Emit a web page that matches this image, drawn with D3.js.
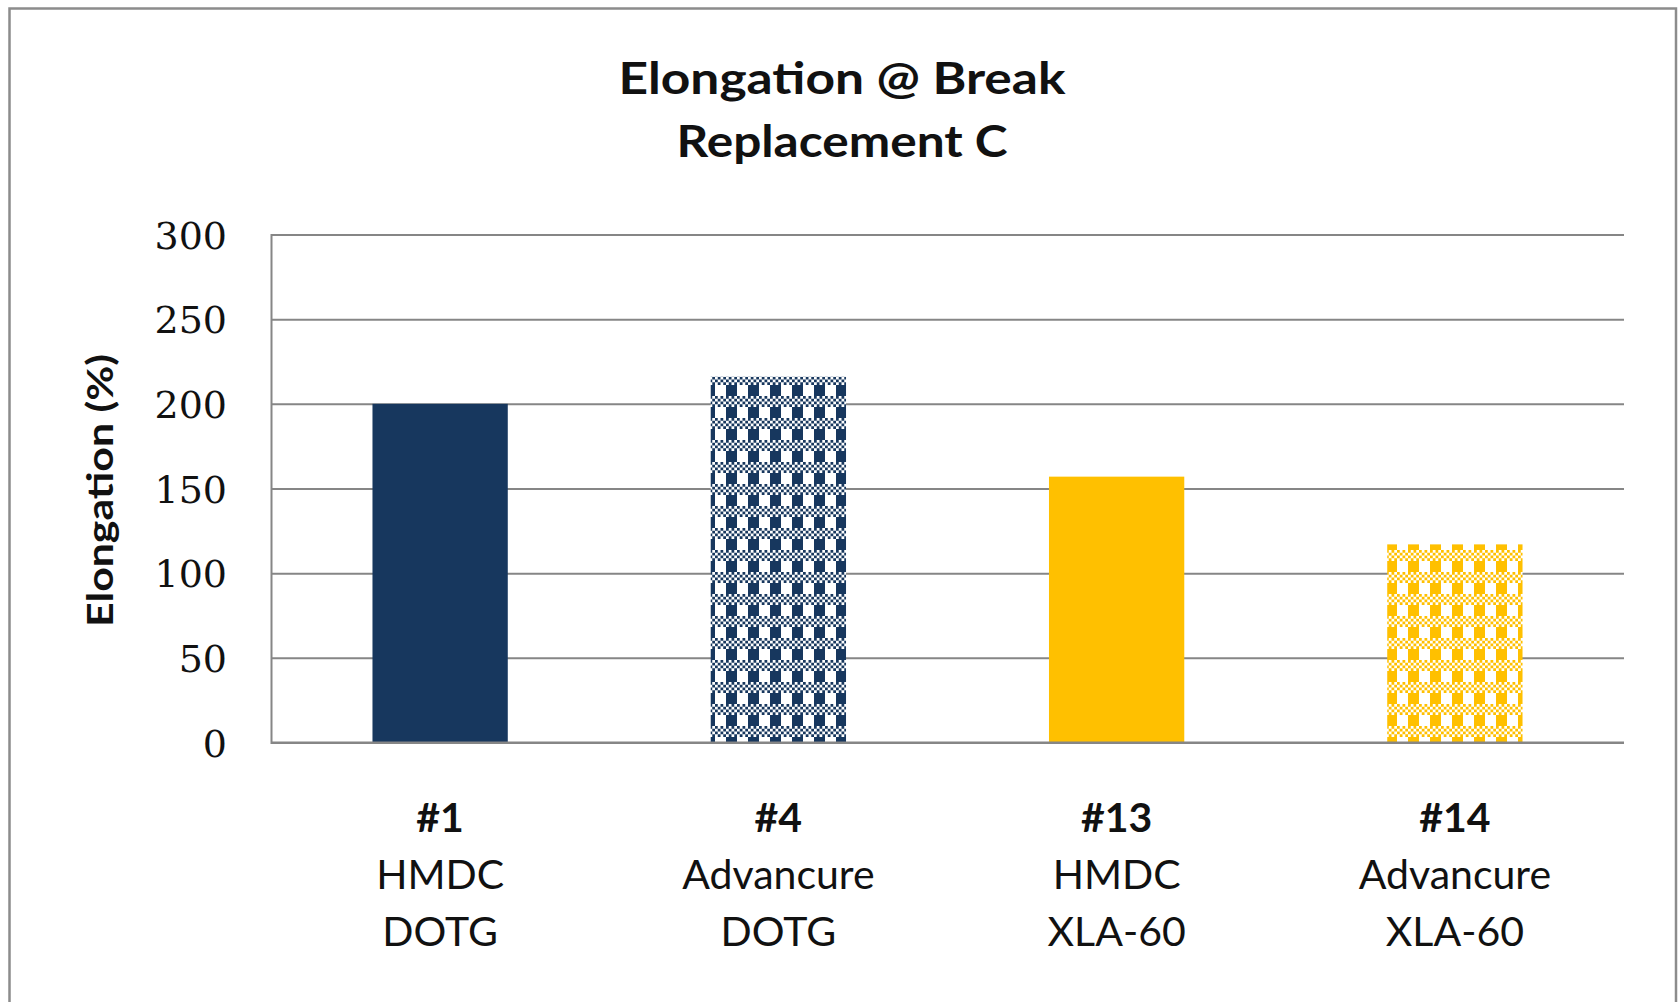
<!DOCTYPE html>
<html>
<head>
<meta charset="utf-8">
<script src="https://cdn.jsdelivr.net/npm/d3@7"></script>
<style>
  html, body { margin: 0; padding: 0; background: #ffffff; }
  svg { display: block; }
</style>
</head>
<body>
<svg id="chart" width="1678" height="1002"></svg>
<script>
// Sample identifiers, compound and accelerator for each bar
const sampleIds = ["#1", "#4", "#13", "#14"];
const compounds = ["HMDC", "Advancure", "HMDC", "Advancure"];
const accelerators = ["DOTG", "DOTG", "XLA-60", "XLA-60"];
// Elongation at break (%)
const elongation = [200, 216, 157, 117];
// Value axis ticks
const yTicks = [0, 50, 100, 150, 200, 250, 300];
const titleLines = ["Elongation @ Break", "Replacement C"];
const yAxisTitle = "Elongation (%)";

const svg = d3.select("#chart");
const plot = { left: 271, right: 1624, top: 234.5, bottom: 742.5 };

const navy = "#17375E", gold = "#FFC000", gridGray = "#868686";
const colorOf = acc => acc === "DOTG" ? navy : gold;

// Plaid fill: upper half fine checkerboard, lower half half-solid block
const defs = svg.append("defs");
const unit = 2.75;
function plaid(id, color) {
  const p = defs.append("pattern")
    .attr("id", id)
    .attr("patternUnits", "userSpaceOnUse")
    .attr("width", unit * 8).attr("height", unit * 8);
  p.append("rect").attr("width", unit * 8).attr("height", unit * 8).attr("fill", "#ffffff");
  const cells = [];
  for (let r = 0; r < 4; r++)
    for (let c = 0; c < 8; c++)
      if ((r + c) % 2 === 0) cells.push([c, r]);
  p.selectAll("rect.chk").data(cells).join("rect")
    .attr("class", "chk")
    .attr("x", d => d[0] * unit).attr("y", d => d[1] * unit)
    .attr("width", unit).attr("height", unit)
    .attr("fill", color);
  p.append("rect").attr("x", 0).attr("y", unit * 4)
    .attr("width", unit * 4).attr("height", unit * 4).attr("fill", color);
}
plaid("plaid-navy", navy);
plaid("plaid-gold", gold);

// Outer chart frame
svg.append("rect")
  .attr("x", 9.5).attr("y", 8.5)
  .attr("width", 1676 - 9.5).attr("height", 1040)
  .attr("fill", "#ffffff")
  .attr("stroke", "#8c8c8c").attr("stroke-width", 2.5);

const x = d3.scaleBand().domain(sampleIds)
  .range([plot.left, plot.right]).paddingInner(0.6).paddingOuter(0.3);
const y = d3.scaleLinear().domain([0, 300]).range([plot.bottom, plot.top]);

// Horizontal gridlines + value axis
const yAxis = svg.append("g")
  .attr("transform", `translate(${plot.left},0)`)
  .call(d3.axisLeft(y).tickValues(yTicks).tickSize(-(plot.right - plot.left)).tickFormat(d3.format("d")));
yAxis.select(".domain").attr("stroke", gridGray).attr("stroke-width", 2);
yAxis.selectAll(".tick line").attr("stroke", gridGray).attr("stroke-width", 2);
yAxis.selectAll(".tick text")
  .attr("x", -44)
  .attr("dy", "0.36em")
  .attr("fill", "#111")
  .style("font-family", "'DejaVu Serif', serif")
  .style("font-size", "38px");

// Bars
const rows = sampleIds.map((id, i) => ({ id, comp: compounds[i], acc: accelerators[i], v: elongation[i] }));
svg.append("g").selectAll("rect").data(rows).join("rect")
  .attr("x", d => x(d.id))
  .attr("y", d => y(d.v))
  .attr("width", x.bandwidth())
  .attr("height", d => y(0) - y(d.v))
  .attr("fill", d => d.comp === "Advancure"
    ? `url(#${d.acc === "DOTG" ? "plaid-navy" : "plaid-gold"})`
    : colorOf(d.acc));

// Category axis line
svg.append("line")
  .attr("x1", plot.left).attr("x2", plot.right)
  .attr("y1", y(0)).attr("y2", y(0))
  .attr("stroke", gridGray).attr("stroke-width", 2);

// Category labels on three lines
const catG = svg.append("g").selectAll("text").data(rows).join("text")
  .attr("text-anchor", "middle")
  .attr("fill", "#111")
  .style("font-family", "Lato, sans-serif")
  .style("font-size", "41px");
[d => d.id, d => d.comp, d => d.acc].forEach((f, k) => {
  catG.append("tspan")
    .attr("x", d => x(d.id) + x.bandwidth() / 2)
    .attr("y", plot.bottom + 89 + k * 57)
    .style("font-weight", k === 0 ? 700 : 400)
    .text(f);
});

// Chart title
const titleWidths = [447, 331];
svg.append("g").selectAll("text").data(titleLines).join("text")
  .attr("x", 842)
  .attr("y", (d, i) => 94 + i * 63)
  .attr("text-anchor", "middle")
  .attr("fill", "#111")
  .style("font-family", "Lato, sans-serif")
  .style("font-weight", 700)
  .style("font-size", "43px")
  .attr("textLength", (d, i) => titleWidths[i])
  .attr("lengthAdjust", "spacingAndGlyphs")
  .text(d => d);

// Value axis title
svg.append("text")
  .attr("transform", `translate(113,${(plot.top + plot.bottom) / 2 + 2}) rotate(-90)`)
  .attr("text-anchor", "middle")
  .attr("fill", "#111")
  .style("font-family", "Lato, sans-serif")
  .style("font-weight", 700)
  .style("font-size", "37px")
  .attr("textLength", 273)
  .attr("lengthAdjust", "spacingAndGlyphs")
  .text(yAxisTitle);
</script>
</body>
</html>
